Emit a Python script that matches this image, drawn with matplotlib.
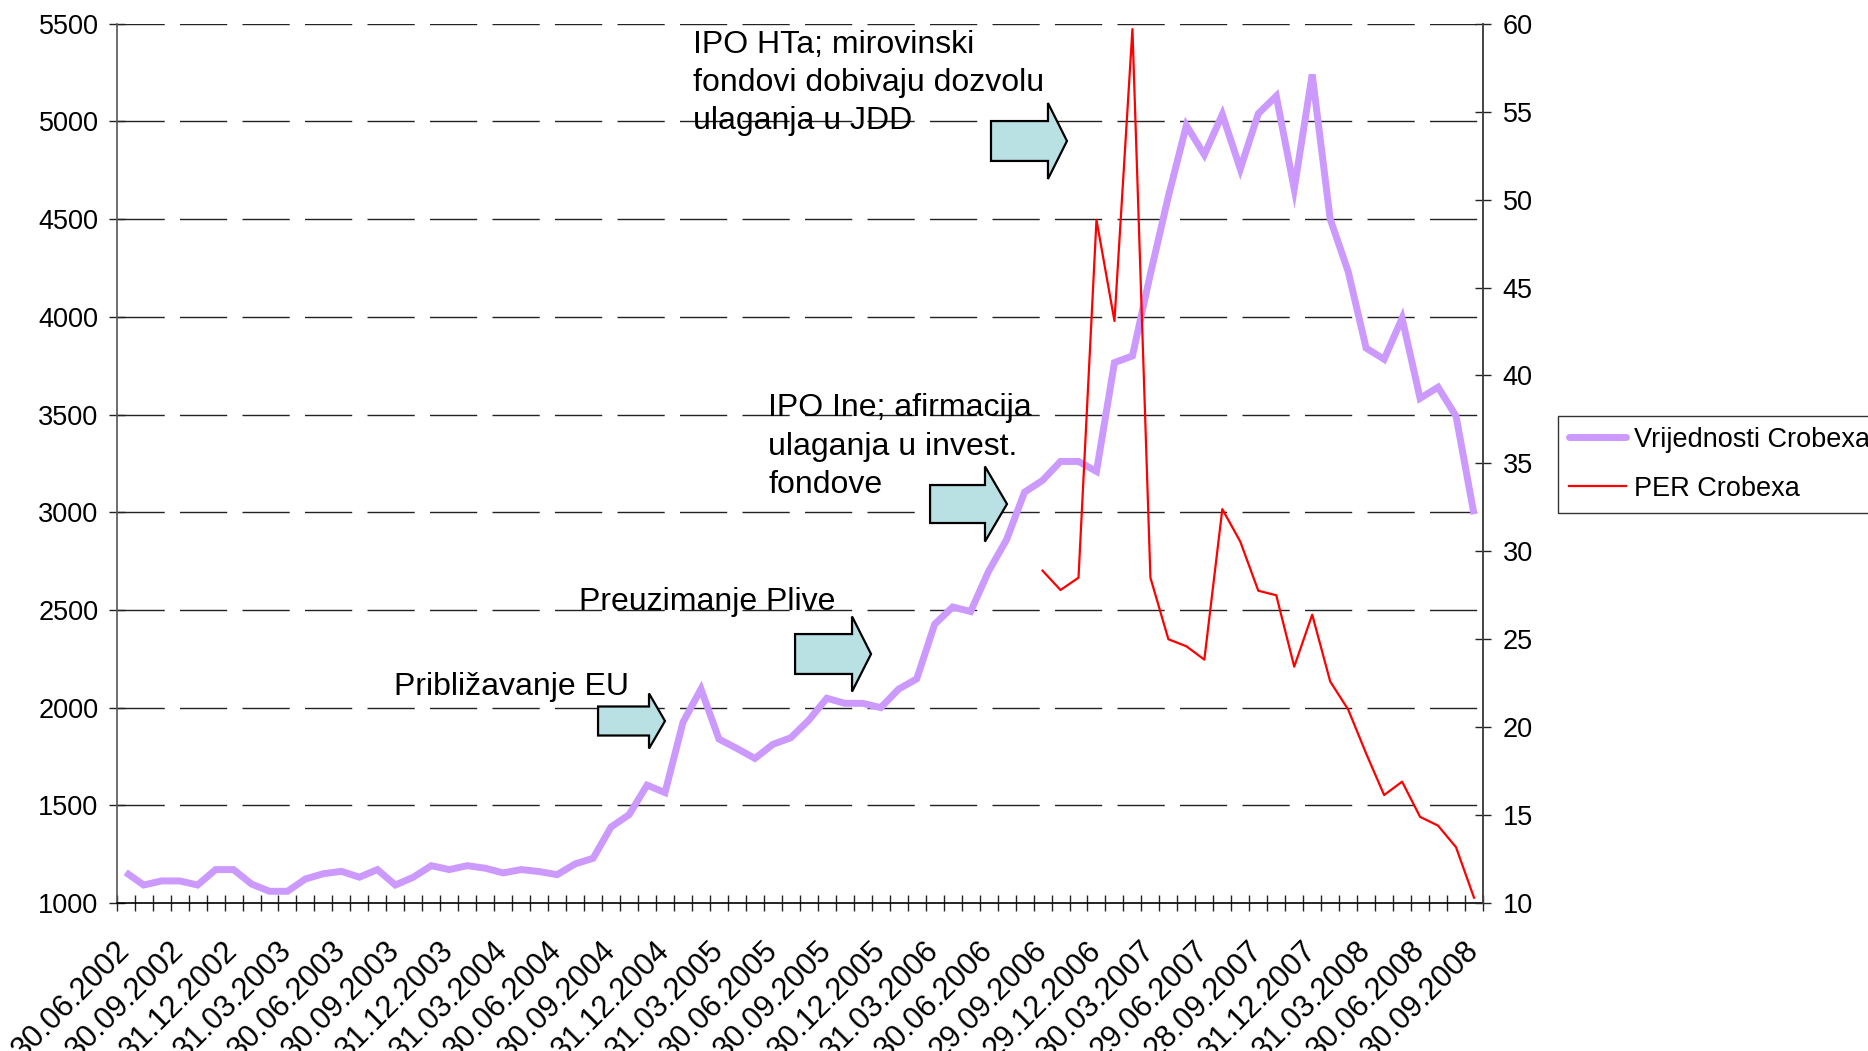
import numpy as np
import pandas as pd
import matplotlib
matplotlib.use("Agg")
import matplotlib.pyplot as plt
from matplotlib.patches import Polygon
from matplotlib.lines import Line2D

plt.rcParams['font.family'] = ['Liberation Sans', 'DejaVu Sans']

# ---------------- data ----------------
months = pd.period_range('2002-06', '2008-09', freq='M')   # 76 monthly categories

crobex_values = [
    1157, 1092, 1113, 1113, 1092, 1171, 1171, 1097, 1060, 1060,
    1123, 1150, 1162, 1132, 1171, 1092, 1132, 1191, 1171, 1191,
    1178, 1154, 1171, 1161, 1145, 1200, 1229, 1389, 1452, 1603,
    1565, 1925, 2095, 1839, 1791, 1740, 1812, 1846, 1936, 2048,
    2022, 2022, 2000, 2095, 2147, 2427, 2515, 2492, 2698, 2860,
    3103, 3163, 3260, 3260, 3209, 3766, 3800, 4220, 4617, 4980,
    4830, 5036, 4757, 5040, 5130, 4655, 5241, 4501, 4232, 3840,
    3783, 3993, 3583, 3640, 3492, 2990,
]

# PER Crobexa, available from 29.09.2006 to 30.09.2008 (last 25 months)
per_values = [
    28.9, 27.8, 28.5, 48.85, 43.1, 59.7, 28.5, 25.0, 24.6, 23.84,
    32.4, 30.55, 27.76, 27.5, 23.44, 26.4, 22.6, 21.0, 18.5, 16.14,
    16.9, 14.9, 14.4, 13.17, 10.3,
]

tick_labels = [
    '30.06.2002', '30.09.2002', '31.12.2002', '31.03.2003', '30.06.2003',
    '30.09.2003', '31.12.2003', '31.03.2004', '30.06.2004', '30.09.2004',
    '31.12.2004', '31.03.2005', '30.06.2005', '30.09.2005', '30.12.2005',
    '31.03.2006', '30.06.2006', '29.09.2006', '29.12.2006', '30.03.2007',
    '29.06.2007', '28.09.2007', '31.12.2007', '31.03.2008', '30.06.2008',
    '30.09.2008',
]

series_names = ['Vrijednosti Crobexa', 'PER Crobexa']

annotations = [
    'Približavanje EU',
    'Preuzimanje Plive',
    'IPO Ine; afirmacija\nulaganja u invest.\nfondove',
    'IPO HTa; mirovinski\nfondovi dobivaju dozvolu\nulaganja u JDD',
]

# ---------------- figure ----------------
W, H = 1868, 1051
fig = plt.figure(figsize=(W / 100, H / 100), dpi=100)
L, R, T, B = 116.7, 1483.0, 23.8, 903.0
ax = fig.add_axes([L / W, 1 - B / H, (R - L) / W, (B - T) / H])
ax2 = ax.twinx()

n = len(months)
x = np.arange(n)
x_per = x[n - len(per_values):]

purple = '#CC99FF'
ax.plot(x, crobex_values, color=purple, lw=5.0, solid_joinstyle='miter',
        solid_capstyle='butt', zorder=3)
ax2.plot(x_per, per_values, color='#FF0000', lw=1.6, zorder=3)

ax.set_xlim(-0.5, n - 0.5)
ax.set_ylim(1000, 5500)
ax2.set_ylim(10, 60)

ax.set_yticks(np.arange(1000, 5501, 500))
ax2.set_yticks(np.arange(10, 61, 5))

# dashed horizontal gridlines
for v in np.arange(1500, 5501, 500):
    ax.axhline(v, color='#222222', lw=1.0, dashes=(34, 11), zorder=1)

# x ticks: minor boundaries with marks, labels on every third category
ax.set_xticks(x[::3])
ax.set_xticklabels(tick_labels, rotation=45, ha='right', va='center',
                   rotation_mode='anchor', fontsize=22)
ax.set_xticks(np.arange(-0.5, n, 1), minor=True)
ax.tick_params(axis='x', which='major', length=0, pad=31)
ax.tick_params(axis='x', which='minor', direction='inout', length=12.2,
               width=1.0, color='#222222')
ax.tick_params(axis='y', which='major', direction='inout', length=12.2,
               width=1.0, color='#222222', labelsize=19.5, pad=7)
ax2.tick_params(axis='y', which='major', direction='inout', length=12.2,
                width=1.0, color='#222222', labelsize=19.5, pad=8)

for a in (ax, ax2):
    a.spines['top'].set_visible(False)
    a.spines['left'].set_color('#555555')
    a.spines['right'].set_color('#444444')
    a.spines['bottom'].set_color('#000000')
    for s in a.spines.values():
        s.set_linewidth(1.2)
ax2.spines['left'].set_visible(False)
ax2.spines['bottom'].set_visible(False)

# ---------------- block arrows & annotations ----------------
def block_arrow(a, x0, xb, xt, yc, bh, hh):
    pts = [(x0, yc - bh), (xb, yc - bh), (xb, yc - hh), (xt, yc),
           (xb, yc + hh), (xb, yc + bh), (x0, yc + bh)]
    a.add_patch(Polygon(pts, closed=True, transform=a.transAxes,
                        facecolor='#B9E0E3', edgecolor='black', lw=1.6,
                        zorder=2.5, joinstyle='miter'))

block_arrow(ax, 0.3523, 0.3896, 0.4013, 0.2070, 0.0165, 0.0313)
block_arrow(ax, 0.4965, 0.5382, 0.5521, 0.2832, 0.0227, 0.0427)
block_arrow(ax, 0.5953, 0.6355, 0.6516, 0.4538, 0.0216, 0.0427)
block_arrow(ax, 0.6399, 0.6816, 0.6955, 0.8667, 0.0227, 0.0432)

text_pos = [(0.2030, 0.2456), (0.3384, 0.3423), (0.4767, 0.5192), (0.4218, 0.9325)]
for txt, (tx, ty) in zip(annotations, text_pos):
    ax.text(tx, ty, txt, transform=ax.transAxes, ha='left', va='center',
            fontsize=23, linespacing=1.36, zorder=5)

# ---------------- legend ----------------
handles = [Line2D([], [], color=purple, lw=5.0, solid_capstyle='round'),
           Line2D([], [], color='#FF0000', lw=1.6)]
fig.legend(handles, series_names, loc='upper left',
           bbox_to_anchor=(1558 / W, 1 - 416 / H), bbox_transform=fig.transFigure,
           borderaxespad=0, fontsize=19.5, handlelength=2.1, handletextpad=0.3,
           labelspacing=0.85, borderpad=0.4, fancybox=False, framealpha=1,
           edgecolor='#333333')

fig.savefig('out.png', dpi=100)
